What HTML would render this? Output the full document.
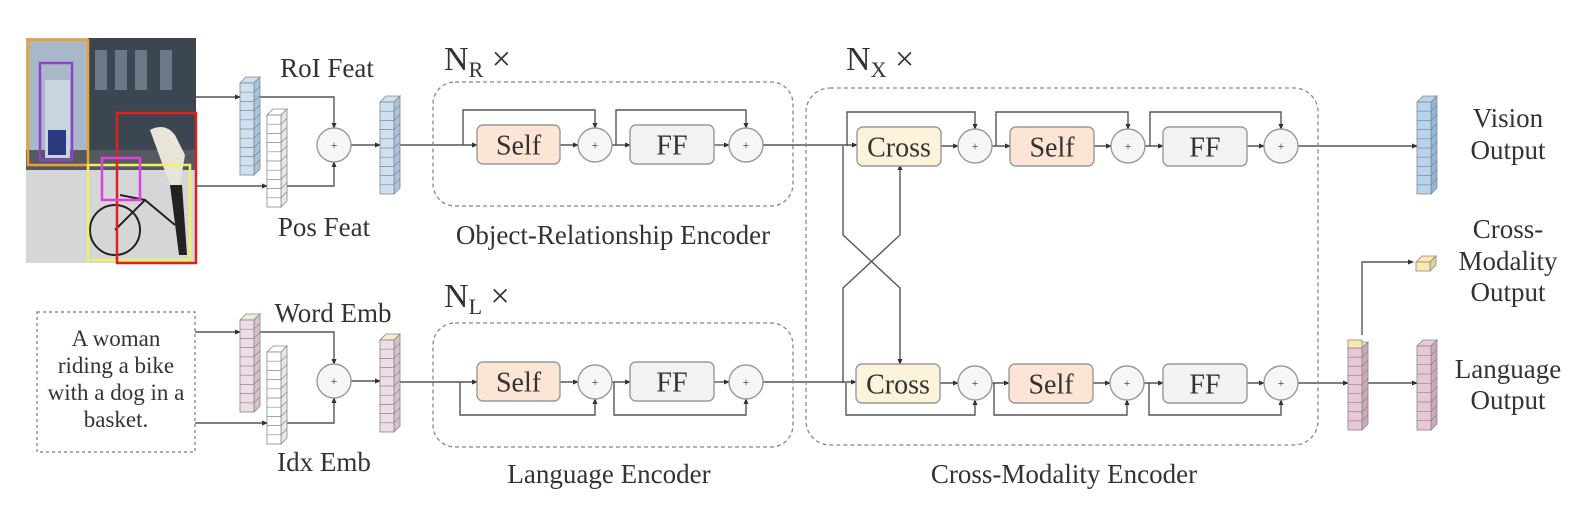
<!DOCTYPE html>
<html><head><meta charset="utf-8"><style>
html,body{margin:0;padding:0;background:#fff;}
svg{display:block;}
svg text{font-family:"Liberation Serif","Times New Roman","DejaVu Serif",serif;fill:#333;}
</style></head><body>
<svg id="s" width="1571" height="505" viewBox="0 0 1571 505" xmlns="http://www.w3.org/2000/svg" font-family="Liberation Serif, DejaVu Serif, serif">
<defs>
<marker id="a" markerWidth="6" markerHeight="6" refX="5" refY="3" orient="auto" markerUnits="userSpaceOnUse"><path d="M0,0.5 L6,3 L0,5.5z" fill="#333"/></marker>
</defs>
<rect width="1571" height="505" fill="#fff"/>
<g>
<rect x="26" y="38" width="170" height="225" fill="#4a5560"/>
<rect x="26" y="38" width="62" height="125" fill="#a8b8c8"/>
<rect x="88" y="38" width="108" height="120" fill="#3c4650"/>
<rect x="95" y="50" width="12" height="40" fill="#6a7888"/><rect x="115" y="50" width="12" height="40" fill="#6a7888"/><rect x="135" y="50" width="12" height="40" fill="#6a7888"/><rect x="160" y="50" width="12" height="40" fill="#6a7888"/>
<rect x="26" y="150" width="170" height="20" fill="#555a60"/>
<rect x="26" y="170" width="170" height="93" fill="#d4d6d8"/>
<rect x="45" y="80" width="25" height="78" fill="#c8d4e0"/>
<rect x="48" y="130" width="18" height="25" fill="#2a3a80"/>
<path d="M150,130 q15,-8 25,5 l10,20 l-5,30 l-10,0 z" fill="#e8e4d8"/>
<path d="M170,185 l12,0 l5,70 l-8,0 z" fill="#222"/>
<circle cx="115" cy="230" r="25" fill="none" stroke="#222" stroke-width="2"/>
<path d="M115,230 l30,-30 l30,25 M145,200 l-25,-5" stroke="#222" stroke-width="2" fill="none"/>
<rect x="28" y="40" width="60" height="125" fill="none" stroke="#f0a030" stroke-width="2.5"/>
<rect x="40" y="63" width="32" height="97" fill="none" stroke="#9040d0" stroke-width="2.5"/>
<rect x="88" y="165" width="102" height="95" fill="none" stroke="#f0f060" stroke-width="2.5"/>
<rect x="117" y="113" width="79" height="150" fill="none" stroke="#e02020" stroke-width="2.5"/>
<rect x="102" y="158" width="38" height="42" fill="none" stroke="#e040e0" stroke-width="2.5"/>
</g>
<g id="lines" stroke="#555" stroke-width="1.4" fill="none"></g>
<g id="stk"></g>
<rect x="37" y="312" width="158" height="140" fill="none" stroke="#777" stroke-width="1.2" stroke-dasharray="3,3"/>
<g font-size="23" text-anchor="middle">
<text x="116" y="346">A woman</text>
<text x="116" y="373">riding a bike</text>
<text x="116" y="400">with a dog in a</text>
<text x="116" y="427">basket.</text>
</g>
<g fill="none" stroke="#888" stroke-width="1.3" stroke-dasharray="4,3">
<rect x="433" y="82" width="360" height="124" rx="22"/>
<rect x="433" y="323" width="360" height="124" rx="22"/>
<rect x="806" y="88" width="512" height="357" rx="24"/>
</g>
<g font-size="27" text-anchor="middle">
<text x="327" y="77">RoI Feat</text>
<text x="324" y="236">Pos Feat</text>
<text x="333" y="322">Word Emb</text>
<text x="324" y="471">Idx Emb</text>
<text x="613" y="244">Object-Relationship Encoder</text>
<text x="609" y="483">Language Encoder</text>
<text x="1064" y="483">Cross-Modality Encoder</text>
<text x="1508" y="127">Vision</text><text x="1508" y="159">Output</text>
<text x="1508" y="238">Cross-</text><text x="1508" y="270">Modality</text><text x="1508" y="301">Output</text>
<text x="1508" y="378">Language</text><text x="1508" y="409">Output</text>
</g>
<g font-size="34">
<text x="444" y="70">N<tspan font-size="22" dy="7">R</tspan><tspan dy="-7"> ×</tspan></text>
<text x="444" y="307">N<tspan font-size="22" dy="7">L</tspan><tspan dy="-7"> ×</tspan></text>
<text x="846" y="70">N<tspan font-size="22" dy="7">X</tspan><tspan dy="-7"> ×</tspan></text>
</g>
<g id="blk"></g>
</svg>
<script>
var NS="http://www.w3.org/2000/svg";
function el(p,t,a,txt){var e=document.createElementNS(NS,t);for(var k in a)e.setAttribute(k,a[k]);if(txt)e.textContent=txt;document.getElementById(p).appendChild(e);return e;}
function L(d,arrow){var a={d:d};if(arrow)a["marker-end"]="url(#a)";el("lines","path",a);}
function stack(x,y,h,fill,dark,top){var w=14,dx=6,dy=6,n=Math.round(h/9.5);
 el("stk","path",{d:"M"+x+","+y+" l"+dx+","+(-dy)+" l"+w+",0 l"+(-dx)+","+dy+"z",fill:top||fill,stroke:"#888","stroke-width":0.8});
 el("stk","path",{d:"M"+(x+w)+","+y+" l"+dx+","+(-dy)+" l0,"+h+" l"+(-dx)+","+dy+"z",fill:dark,stroke:"#888","stroke-width":0.8});
 el("stk","rect",{x:x,y:y,width:w,height:h,fill:fill,stroke:"#888","stroke-width":0.8});
 for(var i=1;i<n;i++){var yy=y+i*h/n;el("stk","path",{d:"M"+x+","+yy+" l"+w+",0 l"+dx+","+(-dy),stroke:"#888","stroke-width":0.7,fill:"none"});}
}
L("M196,97 L240,97",1);L("M196,186 L267,186",1);
L("M254,97 L334,97 L334,128",1);L("M281,186 L334,186 L334,162",1);
L("M351,145 L380,145",1);L("M400,145 L477,145",1);
L("M195,332 L240,332",1);L("M195,423 L267,423",1);
L("M254,332 L334,332 L334,364",1);L("M281,423 L334,423 L334,398",1);
L("M351,381 L380,381",1);L("M400,382 L477,382",1);
L("M560,145 L578,145",1);L("M612,145 L630,145",1);L("M714,145 L729,145",1);L("M763,145 L857,145",1);
L("M463,145 L463,110 L595,110 L595,128",1);L("M616,145 L616,110 L746,110 L746,128",1);
L("M560,382 L578,382",1);L("M612,382 L630,382",1);L("M714,382 L729,382",1);L("M763,382 L856,382",1);
L("M460,382 L460,415 L595,415 L595,399",1);L("M614,382 L614,415 L746,415 L746,399",1);
L("M941,146 L958,146",1);L("M992,146 L1010,146",1);L("M1094,146 L1111,146",1);L("M1145,146 L1163,146",1);L("M1247,146 L1264,146",1);L("M1298,146 L1417,146",1);
L("M847,146 L847,112 L975,112 L975,129",1);L("M996,146 L996,112 L1128,112 L1128,129",1);L("M1150,146 L1150,112 L1281,112 L1281,129",1);
L("M940,383 L958,383",1);L("M992,383 L1009,383",1);L("M1093,383 L1110,383",1);L("M1144,383 L1163,383",1);L("M1247,383 L1264,383",1);L("M1298,383 L1348,383",1);
L("M846,383 L846,415 L975,415 L975,400",1);L("M994,383 L994,415 L1127,415 L1127,400",1);L("M1149,383 L1149,415 L1281,415 L1281,400",1);
L("M843,146 L843,235 L900,288 L900,364",1);L("M843,383 L843,288 L900,235 L900,165",1);
L("M1362,335 L1362,262 L1413,262",1);L("M1368,383 L1417,383",1);
stack(240,83,92,"#cfe0f0","#a8c4de");stack(267,115,92,"#ffffff","#e8e8e8");stack(380,102,92,"#cfe0f0","#a8c4de");
stack(240,320,92,"#eedde6","#d8c0cc","#f0eed0");stack(267,352,92,"#ffffff","#e8e8e8");stack(380,340,92,"#eedde6","#d8c0cc","#f6ecd0");
stack(1417,102,92,"#b8d4ec","#90b8dc");
stack(1348,348,82,"#e8c8d8","#d0a8bc","#f8e4b0");
el("stk","rect",{x:1348,y:340,width:14,height:8,fill:"#fbe8b0",stroke:"#888","stroke-width":0.8});
stack(1417,346,84,"#e8c8d8","#d0a8bc");
stack(1416,262,9,"#fbe8b0","#e8d090");
function box(x,y,w,h,fill,t){el("blk","rect",{x:x,y:y,width:w,height:h,rx:6,fill:fill,stroke:"#999","stroke-width":1.4});el("blk","text",{x:x+w/2,y:y+h/2+10,"font-size":28,"text-anchor":"middle"},t);}
function plus(cx,cy){el("blk","circle",{cx:cx,cy:cy,r:17,fill:"#f6f6f6",stroke:"#999","stroke-width":1.4});el("blk","text",{x:cx,y:cy+4,"font-size":12,"text-anchor":"middle",fill:"#aaa"},"+");}
var SELF="#fde5d6",CR="#fdf2da",FF="#f2f2f2";
plus(334,145);plus(334,381);
box(477,125,83,39,SELF,"Self");plus(595,145);box(630,125,84,39,FF,"FF");plus(746,145);
box(477,362,83,39,SELF,"Self");plus(595,382);box(630,362,84,39,FF,"FF");plus(746,382);
box(857,127,84,39,CR,"Cross");plus(975,146);box(1010,127,84,39,SELF,"Self");plus(1128,146);box(1163,127,84,39,FF,"FF");plus(1281,146);
box(856,364,84,39,CR,"Cross");plus(975,383);box(1009,364,84,39,SELF,"Self");plus(1127,383);box(1163,364,84,39,FF,"FF");plus(1281,383);
</script>
</body></html>
